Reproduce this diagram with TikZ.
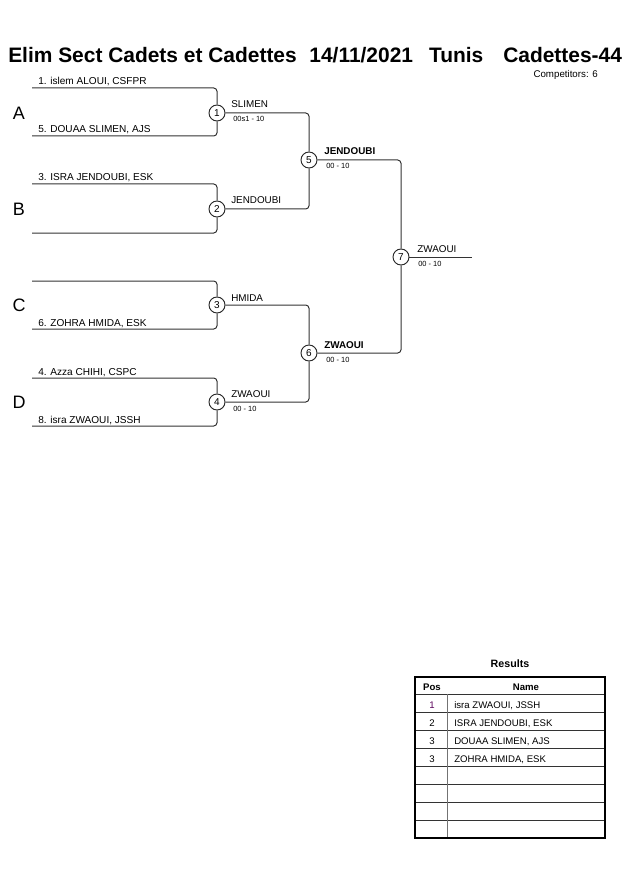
\documentclass[tikz,border=0pt]{standalone}
\usepackage{fontspec}
\setmainfont{Liberation Sans}
\begin{document}
\begin{tikzpicture}[x=0.75pt,y=-0.75pt,
  ln/.style={draw=black!80,line width=0.75pt,rounded corners=2.5pt},
  mc/.style={circle,draw=black!85,fill=white,line width=0.7pt,minimum size=12pt,inner sep=0pt,font=\fontsize{7.5}{9}\selectfont},
  nm/.style={anchor=base west,inner sep=0pt,font=\fontsize{7.55}{9}\selectfont},
  wn/.style={anchor=base west,inner sep=0pt,font=\fontsize{7.4}{9}\selectfont},
  wb/.style={anchor=base west,inner sep=0pt,font=\bfseries\fontsize{7.4}{9}\selectfont},
  sc/.style={anchor=base west,inner sep=0pt,font=\fontsize{5.6}{6}\selectfont},
  grp/.style={inner sep=0pt,font=\fontsize{13.5}{15}\selectfont},
  tb/.style={inner sep=0pt,font=\fontsize{7.2}{9}\selectfont}]
\useasboundingbox (0,0) rectangle (630,891);
% title
\node[anchor=base west,inner sep=0pt,font=\bfseries\fontsize{15.7}{18}\selectfont] (title) at (8,63)
  {Elim Sect Cadets et Cadettes\hspace{9.5pt}14/11/2021\hspace{12pt}Tunis\hspace{15pt}Cadettes-44};
\node[anchor=base east,inner sep=0pt,font=\fontsize{7.3}{8}\selectfont] (comp) at (598,78) {Competitors: 6};
% match circles
\node[mc] (m1) at (217,113) {1};
\node[mc] (m2) at (217,209) {2};
\node[mc] (m3) at (217,305) {3};
\node[mc] (m4) at (217,402) {4};
\node[mc] (m5) at (309,160) {5};
\node[mc] (m6) at (309,353) {6};
\node[mc] (m7) at (401,257) {7};
% player line ends
\coordinate (p1) at (32,88);
\coordinate (p2) at (32,136);
\coordinate (p3) at (32,184);
\coordinate (p4) at (32,233);
\coordinate (p5) at (32,281);
\coordinate (p6) at (32,329);
\coordinate (p7) at (32,378);
\coordinate (p8) at (32,426);
\coordinate (fin) at (472,257);
\draw[ln] (p1) -| (m1);
\draw[ln] (p2) -| (m1);
\draw[ln] (p3) -| (m2);
\draw[ln] (p4) -| (m2);
\draw[ln] (p5) -| (m3);
\draw[ln] (p6) -| (m3);
\draw[ln] (p7) -| (m4);
\draw[ln] (p8) -| (m4);
\draw[ln] (m1) -| (m5);
\draw[ln] (m2) -| (m5);
\draw[ln] (m3) -| (m6);
\draw[ln] (m4) -| (m6);
\draw[ln] (m5) -| (m7);
\draw[ln] (m6) -| (m7);
\draw[ln] (m7) -- (fin);
% group letters
\node[grp] (ga) at (19,113) {A};
\node[grp] (gb) at (19,209) {B};
\node[grp] (gc) at (19,305) {C};
\node[grp] (gd) at (19,402) {D};
% player names
\node[nm] (n1) at (38,85) {1. islem ALOUI, CSFPR};
\node[nm] (n2) at (38,133) {5. DOUAA SLIMEN, AJS};
\node[nm] (n3) at (38,181) {3. ISRA JENDOUBI, ESK};
\node[nm] (n6) at (38,326) {6. ZOHRA HMIDA, ESK};
\node[nm] (n4) at (38,375) {4. Azza CHIHI, CSPC};
\node[nm] (n8) at (38,423) {8. isra ZWAOUI, JSSH};
% winners
\node[wn] (w1) at (231,108) {SLIMEN};
\node[sc] (s1) at (233,122) {00s1 - 10};
\node[wn] (w2) at (231,204) {JENDOUBI};
\node[wn] (w3) at (231,301) {HMIDA};
\node[wn] (w4) at (231,397) {ZWAOUI};
\node[sc] (s4) at (233,411) {00 - 10};
\node[wb] (w5) at (324,155) {JENDOUBI};
\node[sc] (s5) at (326,169) {00 - 10};
\node[wb] (w6) at (324,348) {ZWAOUI};
\node[sc] (s6) at (326,362) {00 - 10};
\node[wn] (w7) at (417,252) {ZWAOUI};
\node[sc] (s7) at (418,266) {00 - 10};
% results
\node[anchor=base,inner sep=0pt,font=\bfseries\fontsize{8}{9}\selectfont] (res) at (510,667) {Results};
\foreach \yy in {694,712,730,748,766,784,802,820}
  \draw[black!80,line width=0.6pt] (415,\yy) -- (605,\yy);
\draw[black!55,line width=0.6pt] (447,694) -- (447,838);
\draw[black,line width=1.3pt] (415,677) rectangle (605,838);
\node[anchor=base,tb,font=\bfseries\fontsize{7.2}{9}\selectfont] (hp) at (432,690) {Pos};
\node[anchor=base,tb,font=\bfseries\fontsize{7.2}{9}\selectfont] (hn) at (526,690) {Name};
\node[anchor=base,tb,text=violet!70!black] (r1p) at (432,708) {1};
\node[anchor=base west,tb] (r1n) at (454,708) {isra ZWAOUI, JSSH};
\node[anchor=base,tb] (r2p) at (432,726) {2};
\node[anchor=base west,tb] (r2n) at (454,726) {ISRA JENDOUBI, ESK};
\node[anchor=base,tb] (r3p) at (432,744) {3};
\node[anchor=base west,tb] (r3n) at (454,744) {DOUAA SLIMEN, AJS};
\node[anchor=base,tb] (r4p) at (432,762) {3};
\node[anchor=base west,tb] (r4n) at (454,762) {ZOHRA HMIDA, ESK};
\end{tikzpicture}
\end{document}
